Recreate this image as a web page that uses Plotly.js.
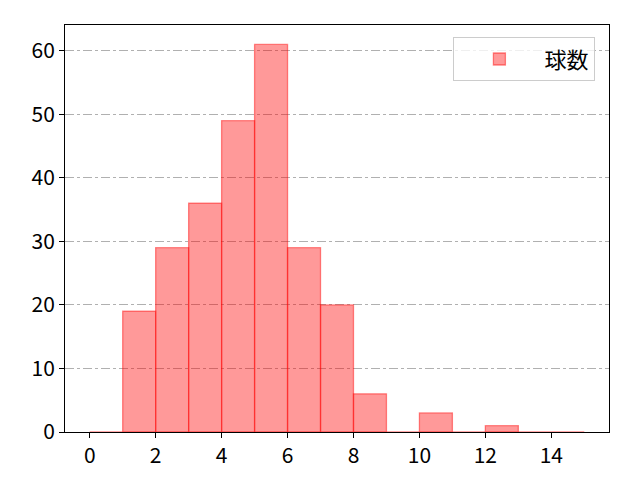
<!DOCTYPE html>
<html>
<head>
<meta charset="utf-8">
<script src="https://cdn.plot.ly/plotly-3.0.1.min.js"></script>
<style>
  html, body { margin: 0; padding: 0; background: #fff; }
  #chart { width: 640px; height: 480px; }
</style>
</head>
<body>
<div id="chart"></div>
<script>
// Histogram bins (left edges) and counts
const binEdges = [0, 1, 2, 3, 4, 5, 6, 7, 8, 9, 10, 11, 12, 13, 14];
const counts = [0, 19, 29, 36, 49, 61, 29, 20, 6, 0, 3, 0, 1, 0, 0];
const seriesName = '球数';
const xTicks = [0, 2, 4, 6, 8, 10, 12, 14];
const yTicks = [0, 10, 20, 30, 40, 50, 60];

const fontFamily = '"Noto Sans CJK JP", "DejaVu Sans", sans-serif';

const trace = {
    type: 'bar',
    x: binEdges.map(e => e + 0.5),
    y: counts,
    width: 1,
    name: seriesName,
    showlegend: true,
    marker: {
        color: 'rgba(255, 0, 0, 0.4)',
        line: { color: 'rgba(255, 0, 0, 0.45)', width: 1.3 }
    },
    hovertemplate: '%{x}: %{y}<extra></extra>'
};

const layout = {
    width: 640,
    height: 480,
    plot_bgcolor: '#ffffff',
    paper_bgcolor: '#ffffff',
    font: { family: fontFamily, size: 21, color: '#000' },
    margin: { l: 65, r: 31, t: 25, b: 48 },
    bargap: 0,
    xaxis: {
        range: [-0.75, 15.75],
        tickvals: xTicks,
        ticks: 'outside',
        ticklen: 5,
        tickwidth: 1,
        tickcolor: '#000',
        showline: true,
        linecolor: '#000',
        linewidth: 1,
        mirror: true,
        showgrid: false,
        zeroline: false
    },
    yaxis: {
        range: [0, 64.05],
        tickvals: yTicks,
        ticks: 'outside',
        ticklen: 5,
        tickwidth: 1,
        tickcolor: '#000',
        showline: true,
        linecolor: '#000',
        linewidth: 1,
        mirror: true,
        showgrid: true,
        gridcolor: '#b0b0b0',
        gridwidth: 1,
        griddash: 'dashdot',
        zeroline: false
    },
    legend: {
        x: 0.975,
        y: 0.97,
        xanchor: 'right',
        yanchor: 'top',
        bgcolor: 'rgba(255,255,255,0.8)',
        bordercolor: '#cccccc',
        borderwidth: 1,
        itemwidth: 80,
        font: { family: fontFamily, size: 22 }
    }
};

Plotly.newPlot('chart', [trace], layout, { displayModeBar: false, staticPlot: true });
</script>
</body>
</html>
